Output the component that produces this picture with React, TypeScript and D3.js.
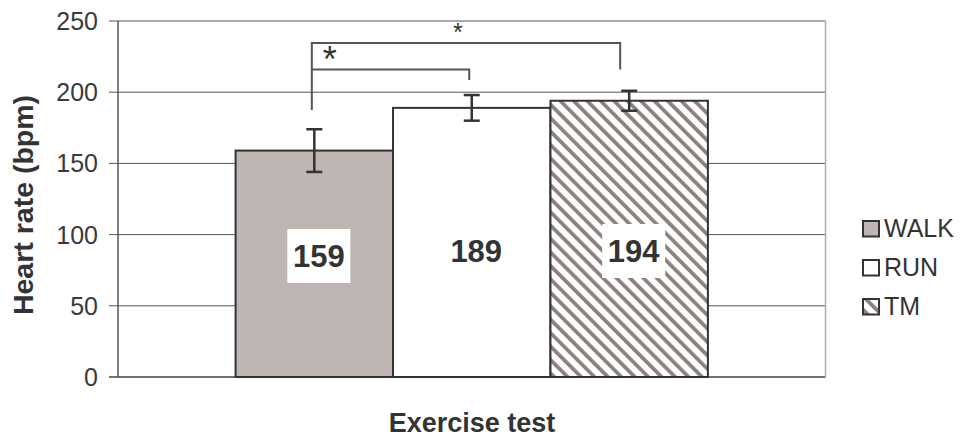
import React from "react";
import * as d3 from "d3";

const categories = ["Exercise test"];
const series = ["WALK", "RUN", "TM"];
const values = [159, 189, 194];
const errors = [15, 9, 7];
const yTicks = [0, 50, 100, 150, 200, 250];
const labelAt = [85, 88.5, 88.5];
// significance brackets
const bracketFrom = [0, 0];
const bracketTo = [1, 2];
const bracketTop = [216, 234.5];
const bracketLeftBottom = [187.5, 216];
const bracketRightBottom = [208.5, 216];
const bracketLabels = ["*", "*"];

const W = 968;
const H = 437;
const FONT = "'Liberation Sans', Arial, Helvetica, sans-serif";
const TEXT = "#333333";

export default function App() {
  const plotL = 118, plotR = 825.5, plotT = 21, plotB = 377;
  const y = d3.scaleLinear().domain([0, 250]).range([plotB, plotT]);
  const x0 = d3.scaleBand().domain(categories).range([plotL, plotR]).paddingInner(0).paddingOuter(0.249);
  const x1 = d3.scaleBand().domain(series).range([0, x0.bandwidth()]).padding(0);
  const bx = (i: number) => (x0(categories[0]) as number) + (x1(series[i]) as number);
  const bw = x1.bandwidth();
  const cx = (i: number) => bx(i) + bw / 2;

  const fills = ["#bfb5b2", "#ffffff", "url(#hatch)"];
  const bracketXOff = [[-2.5, -2.5], [-2.5, -9]];
  const starFont = [36, 25];
  const starX = [18, 146];
  const starCenterDy = [-15, -14.5];

  return (
    <div style={{ position: "absolute", left: 0, top: 0 }}>
      <svg width={W} height={H} style={{ display: "block", background: "#fff" }} fontFamily={FONT}>
        <defs>
          <pattern id="hatch" patternUnits="userSpaceOnUse" width="9.5" height="9.5" patternTransform="rotate(-45)">
            <rect width="9.5" height="9.5" fill="#ffffff" />
            <rect x="0" y="0" width="3.7" height="9.5" fill="#8c817d" />
          </pattern>
        </defs>

        {/* gridlines */}
        {yTicks.map((t) => (
          <g key={t}>
            <line x1={plotL - 9} x2={plotR} y1={y(t)} y2={y(t)} stroke={t === 0 ? "#444" : "#555"} strokeWidth={t === 0 ? 1.5 : 1} />
            <text x={98} y={y(t) + 9} textAnchor="end" fontSize={25} fill="#3a3a3a">{t}</text>
          </g>
        ))}
        {/* axes / border */}
        <line x1={plotL} x2={plotL} y1={plotT} y2={plotB} stroke="#555" strokeWidth={1.5} />
        <line x1={plotR} x2={plotR} y1={plotT} y2={plotB} stroke="#aaa" strokeWidth={1.5} />

        {/* bars */}
        {series.map((s, i) => (
          <rect key={s} x={bx(i)} y={y(values[i])} width={bw} height={plotB - y(values[i])}
            fill={fills[i]} stroke="#333" strokeWidth={2} />
        ))}

        {/* error bars */}
        {series.map((s, i) => {
          const c = cx(i);
          const t = y(values[i] + errors[i]);
          const b = y(values[i] - errors[i]);
          return (
            <g key={"e" + s} stroke="#333" strokeWidth={2.5}>
              <line x1={c} x2={c} y1={t} y2={b} />
              <line x1={c - 8} x2={c + 8} y1={t} y2={t} />
              <line x1={c - 8} x2={c + 8} y1={b} y2={b} />
            </g>
          );
        })}

        {/* value labels */}
        {series.map((s, i) => {
          const c = cx(i) + 4.5;
          const m = y(labelAt[i]);
          return (
            <g key={"l" + s}>
              <rect x={c - 31.5} y={m - 27} width={63} height={54} fill="#fff" />
              <text x={c} y={m + 11.5} textAnchor="middle" fontSize={31} fontWeight="bold" fill={TEXT}>{values[i]}</text>
            </g>
          );
        })}

        {/* significance brackets */}
        {bracketFrom.map((f, k) => {
          const xa = cx(f) + bracketXOff[k][0];
          const xb = cx(bracketTo[k]) + bracketXOff[k][1];
          const yt = y(bracketTop[k]);
          const starCy = yt + starCenterDy[k];
          return (
            <g key={"b" + k}>
              <path d={`M${xa},${y(bracketLeftBottom[k])}V${yt}H${xb}V${y(bracketRightBottom[k])}`}
                fill="none" stroke="#555" strokeWidth={2} />
              <text x={xa + starX[k]} y={starCy + 0.48 * starFont[k]}
                textAnchor="middle" fontSize={starFont[k]} fill={TEXT}>{bracketLabels[k]}</text>
            </g>
          );
        })}

        {/* axis titles */}
        <text x={472} y={431.5} textAnchor="middle" fontSize={27} fontWeight="bold" fill={TEXT}>Exercise test</text>
        <text transform={`translate(33,${(plotT + plotB) / 2 + 6}) rotate(-90)`} textAnchor="middle" fontSize={28.5} fontWeight="bold" fill={TEXT}>Heart rate (bpm)</text>

        {/* legend */}
        {series.map((s, i) => {
          const base = 237 + i * 39;
          return (
            <g key={"lg" + s}>
              <rect x={863} y={base - 16} width={16} height={15.5} fill={fills[i]} stroke="#333" strokeWidth={2} />
              <text x={884} y={base} fontSize={25} fill={TEXT}>{s}</text>
            </g>
          );
        })}
      </svg>
    </div>
  );
}
